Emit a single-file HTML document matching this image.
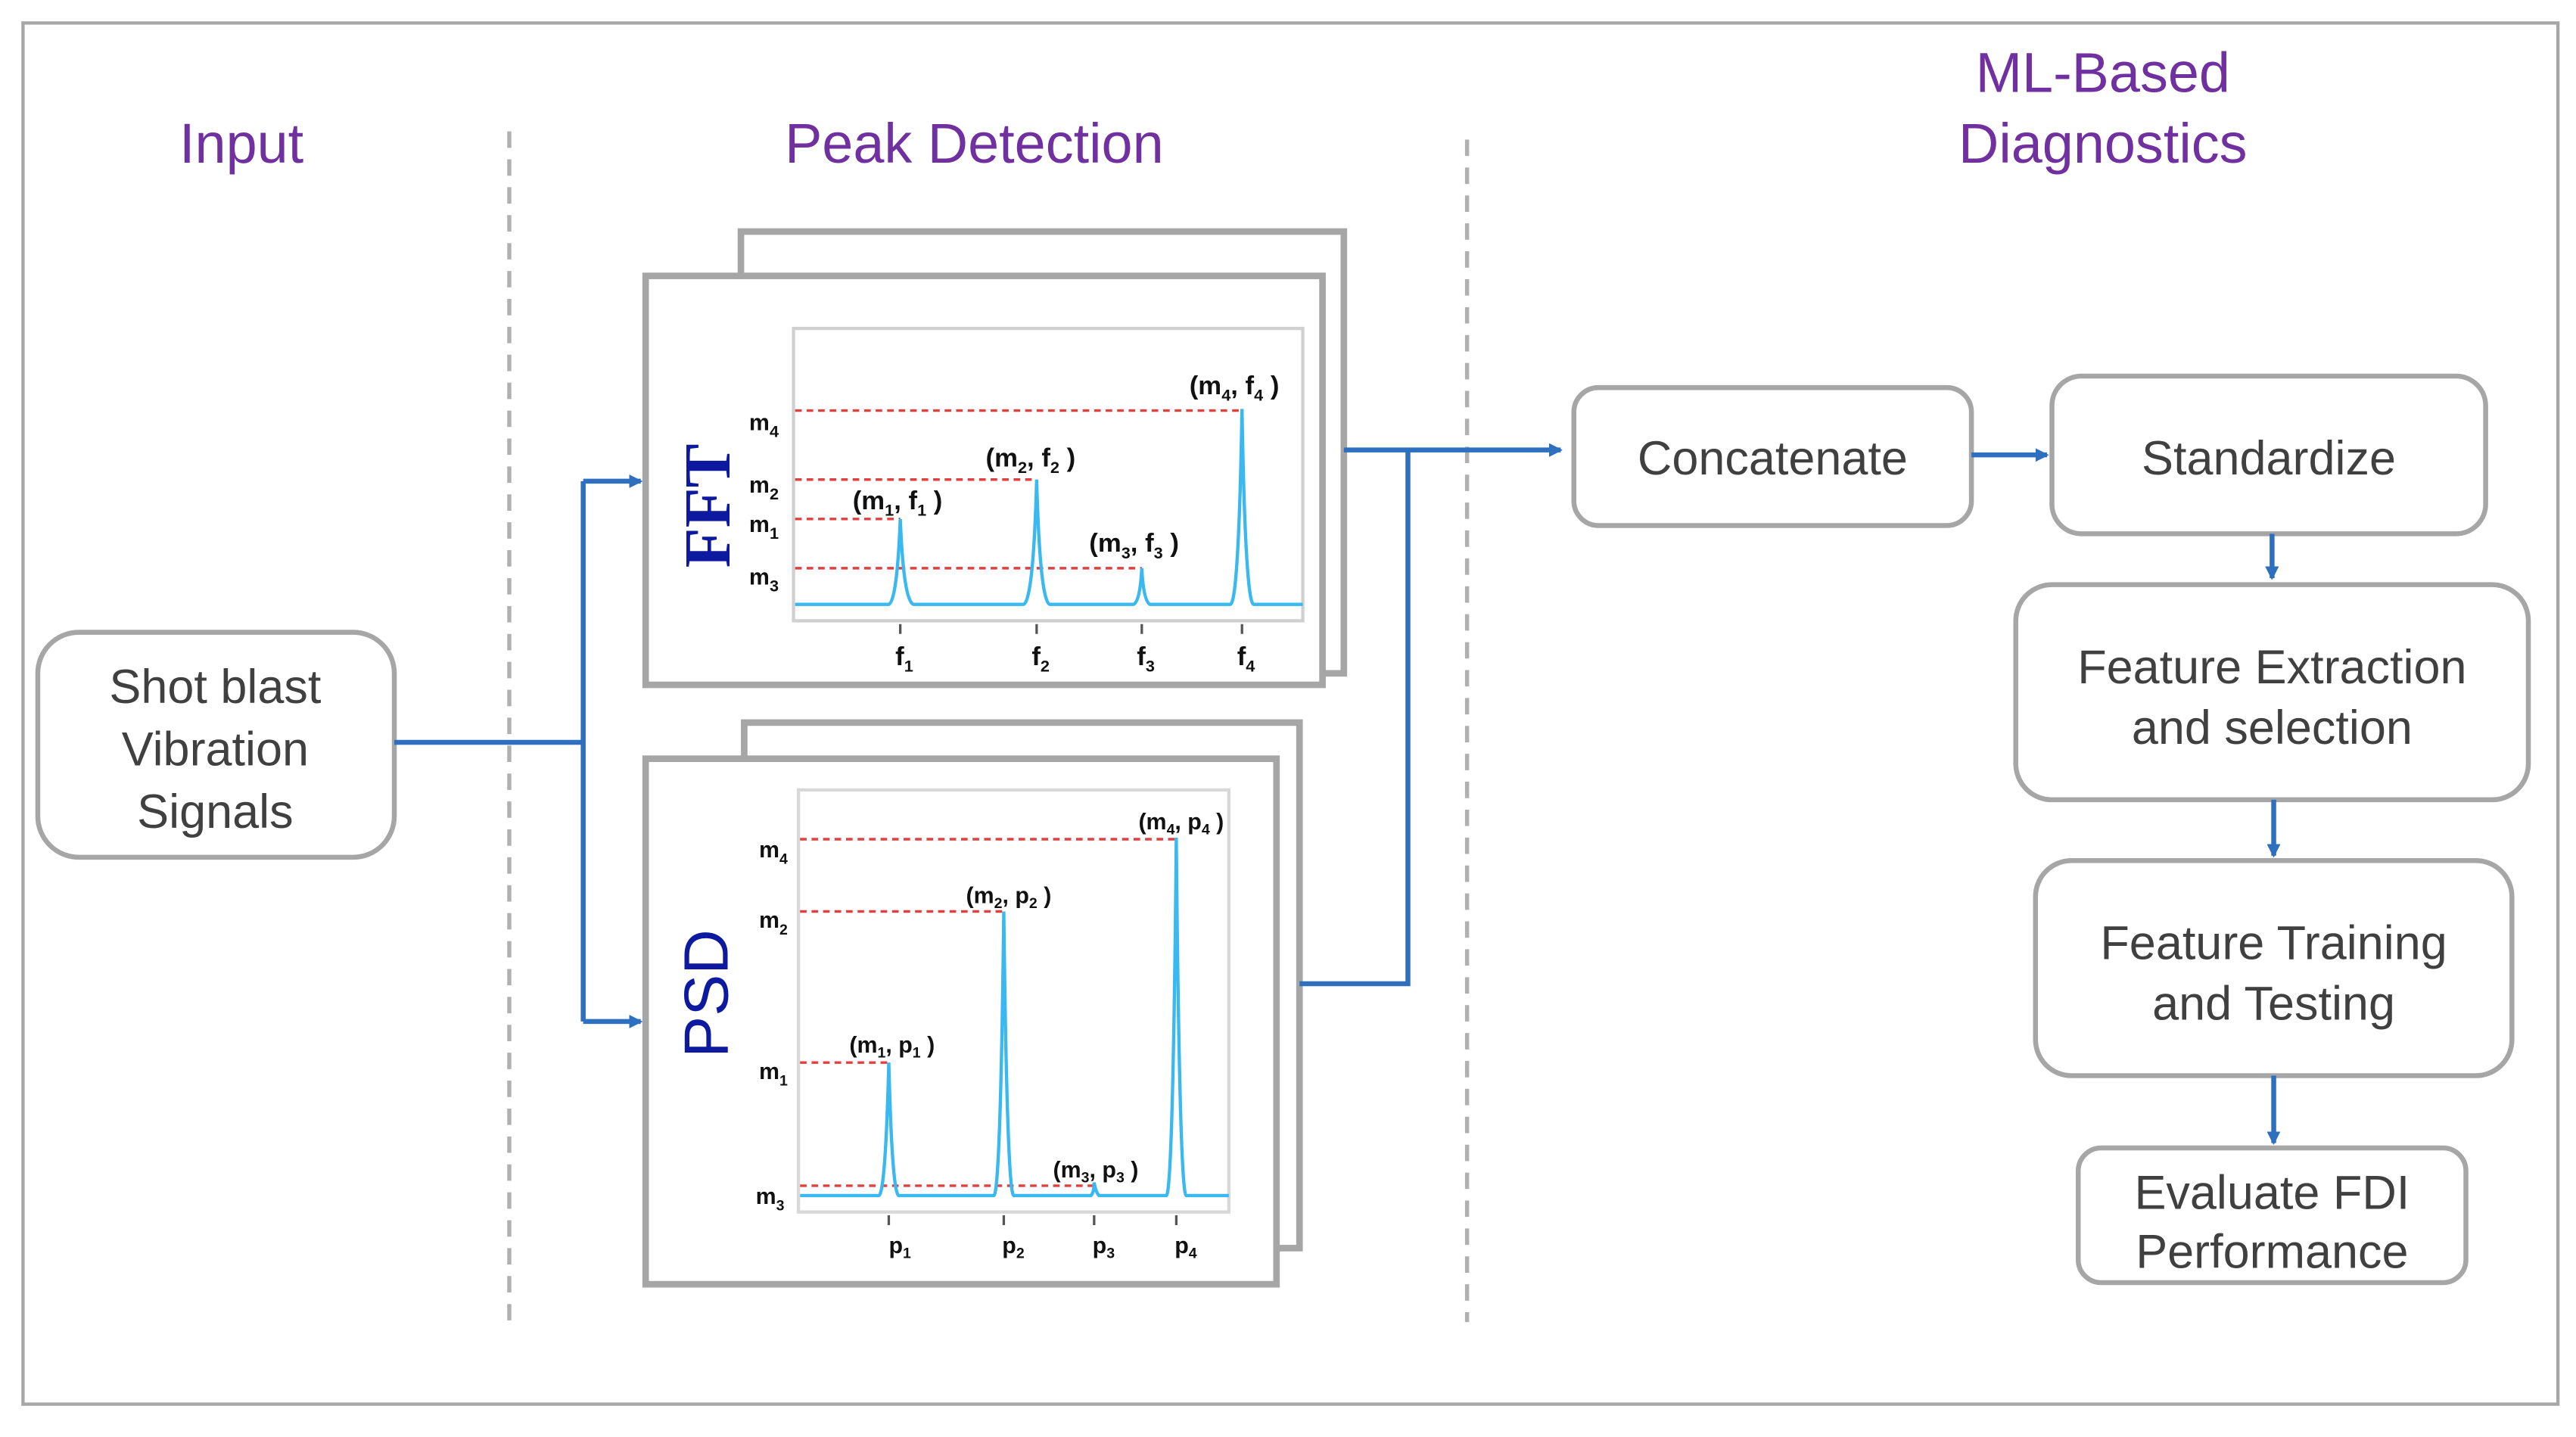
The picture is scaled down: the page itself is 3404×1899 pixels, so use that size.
<!DOCTYPE html>
<html><head><meta charset="utf-8"><style>
html,body{margin:0;padding:0;background:#fff;}
svg{display:block;}
.t{font-family:"Liberation Sans",sans-serif;fill:#404040;text-anchor:middle;}
.h{font-family:"Liberation Sans",sans-serif;fill:#7030a0;text-anchor:middle;font-size:34px;}
.b{fill:#fff;stroke:#a6a6a6;stroke-width:3;}
.c{stroke:#2e6fc0;stroke-width:3;fill:none;}
.r{stroke:#e04040;stroke-width:1.6;stroke-dasharray:4 3;fill:none;}
.s{stroke:#3ab8f0;stroke-width:2;fill:none;}
.l{font-family:"Liberation Sans",sans-serif;font-size:14px;fill:#111;font-weight:bold;}
</style></head><body>
<svg width="3404" height="1899" viewBox="0 0 1568 875" preserveAspectRatio="none" xmlns="http://www.w3.org/2000/svg">
<defs>
<marker id="a" markerWidth="8" markerHeight="8" refX="7" refY="4" orient="auto" markerUnits="userSpaceOnUse"><path d="M0,0 L8,4 L0,8 z" fill="#2e6fc0"/><path d="M0,0 L8,4 L0,8 z" fill="#2e6fc0" transform="scale(1.5) translate(-2.5,-1.3)"/></marker>
</defs>
<rect x="14" y="14" width="1543" height="841" fill="none" stroke="#a6a6a6" stroke-width="2"/>
<line x1="310" y1="80" x2="310" y2="805" stroke="#b0b0b0" stroke-width="2.5" stroke-dasharray="10 7"/>
<line x1="893" y1="85" x2="893" y2="805" stroke="#b0b0b0" stroke-width="2.5" stroke-dasharray="10 7"/>
<text class="h" x="147" y="99">Input</text>
<text class="h" x="593" y="99">Peak Detection</text>
<text class="h" x="1280" y="56">ML-Based</text>
<text class="h" x="1280" y="99">Diagnostics</text>

<rect class="b" x="23" y="385" width="217" height="137" rx="25"/>
<text class="t" font-size="29" x="131" y="428">Shot blast</text>
<text class="t" font-size="29" x="131" y="466">Vibration</text>
<text class="t" font-size="29" x="131" y="504">Signals</text>

<path class="c" d="M240,452 H355 M355,293 V622"/>
<path class="c" d="M355,293 H390" marker-end="url(#a)"/>
<path class="c" d="M355,622 H390" marker-end="url(#a)"/>

<!-- FFT -->
<rect x="451" y="141" width="367" height="269" fill="#fff" stroke="#a6a6a6" stroke-width="4"/>
<rect x="393" y="168" width="412" height="249" fill="#fff" stroke="#a6a6a6" stroke-width="4"/>
<rect x="483" y="200" width="310" height="178" fill="#fff" stroke="#d0d0d0" stroke-width="2"/>
<text x="0" y="0" transform="translate(444,308) rotate(-90)" font-family="Liberation Serif,serif" font-weight="bold" font-size="40" fill="#0d1aa0" text-anchor="middle">FFT</text>
<path class="r" d="M484,250 H756 M484,292 H631 M484,316 H548 M484,346 H695"/>
<path class="s" d="M484,368 H541 Q546,366 548,316 Q550,366 556,368 H623 Q629,366 631,292 Q633,366 639,368 H690 Q694,366 695,346 Q696,366 700,368 H749 Q754,366 756,249 Q758,366 763,368 H793"/>
<g class="l"><text x="456" y="262">m<tspan font-size="10" dy="4">4</tspan></text><text x="456" y="300">m<tspan font-size="10" dy="4">2</tspan></text><text x="456" y="324">m<tspan font-size="10" dy="4">1</tspan></text><text x="456" y="356">m<tspan font-size="10" dy="4">3</tspan></text>
<g font-size="16"><text x="545" y="405">f<tspan font-size="10" dy="4">1</tspan></text><text x="628" y="405">f<tspan font-size="10" dy="4">2</tspan></text><text x="692" y="405">f<tspan font-size="10" dy="4">3</tspan></text><text x="753" y="405">f<tspan font-size="10" dy="4">4</tspan></text>
<text x="724" y="240">(m<tspan font-size="10" dy="4">4</tspan><tspan dy="-4">, f</tspan><tspan font-size="10" dy="4">4</tspan><tspan dy="-4"> )</tspan></text>
<text x="600" y="284">(m<tspan font-size="10" dy="4">2</tspan><tspan dy="-4">, f</tspan><tspan font-size="10" dy="4">2</tspan><tspan dy="-4"> )</tspan></text>
<text x="519" y="310">(m<tspan font-size="10" dy="4">1</tspan><tspan dy="-4">, f</tspan><tspan font-size="10" dy="4">1</tspan><tspan dy="-4"> )</tspan></text>
<text x="663" y="336">(m<tspan font-size="10" dy="4">3</tspan><tspan dy="-4">, f</tspan><tspan font-size="10" dy="4">3</tspan><tspan dy="-4"> )</tspan></text></g></g>
<path d="M548,380 V386 M631,380 V386 M695,380 V386 M756,380 V386" stroke="#555" stroke-width="1.5"/>

<!-- PSD -->
<rect x="453" y="440" width="338" height="320" fill="#fff" stroke="#a6a6a6" stroke-width="4"/>
<rect x="393" y="462" width="384" height="320" fill="#fff" stroke="#a6a6a6" stroke-width="4"/>
<rect x="486" y="481" width="262" height="257" fill="#fff" stroke="#d8d8d8" stroke-width="2"/>
<text x="0" y="0" transform="translate(443,605) rotate(-90)" font-family="Liberation Sans,sans-serif" font-size="38" fill="#0d1aa0" text-anchor="middle">PSD</text>
<path class="r" d="M487,511 H716 M487,555 H611 M487,647 H541 M487,722 H666"/>
<path class="s" d="M487,728 H535 Q539,726 541,647 Q543,726 547,728 H605 Q609,726 611,555 Q613,726 617,728 H664 Q666,726 666,720 Q667,726 669,728 H710 Q714,726 716,510 Q718,726 722,728 H748"/>
<g class="l" font-size="13"><text x="462" y="522">m<tspan font-size="9" dy="4">4</tspan></text><text x="462" y="565">m<tspan font-size="9" dy="4">2</tspan></text><text x="462" y="657">m<tspan font-size="9" dy="4">1</tspan></text><text x="460" y="733">m<tspan font-size="9" dy="4">3</tspan></text>
<text x="541" y="763">p<tspan font-size="9" dy="3">1</tspan></text><text x="610" y="763">p<tspan font-size="9" dy="3">2</tspan></text><text x="665" y="763">p<tspan font-size="9" dy="3">3</tspan></text><text x="715" y="763">p<tspan font-size="9" dy="3">4</tspan></text>
<text x="693" y="505">(m<tspan font-size="9" dy="3">4</tspan><tspan dy="-3">, p</tspan><tspan font-size="9" dy="3">4</tspan><tspan dy="-3"> )</tspan></text>
<text x="588" y="550">(m<tspan font-size="9" dy="3">2</tspan><tspan dy="-3">, p</tspan><tspan font-size="9" dy="3">2</tspan><tspan dy="-3"> )</tspan></text>
<text x="517" y="641">(m<tspan font-size="9" dy="3">1</tspan><tspan dy="-3">, p</tspan><tspan font-size="9" dy="3">1</tspan><tspan dy="-3"> )</tspan></text>
<text x="641" y="717">(m<tspan font-size="9" dy="3">3</tspan><tspan dy="-3">, p</tspan><tspan font-size="9" dy="3">3</tspan><tspan dy="-3"> )</tspan></text></g>
<path d="M541,740 V746 M611,740 V746 M666,740 V746 M716,740 V746" stroke="#555" stroke-width="1.5"/>

<!-- right connectors -->
<path class="c" d="M791,599 H857 V274"/>
<path class="c" d="M818,274 H950" marker-end="url(#a)"/>

<rect class="b" x="958" y="236" width="242" height="84" rx="15"/>
<text class="t" font-size="29" x="1079" y="289">Concatenate</text>
<path class="c" d="M1200,277 H1246" marker-end="url(#a)"/>
<rect class="b" x="1249" y="229" width="264" height="96" rx="18"/>
<text class="t" font-size="29" x="1381" y="289">Standardize</text>
<path class="c" d="M1383,325 V352" marker-end="url(#a)"/>
<rect class="b" x="1227" y="356" width="312" height="131" rx="22"/>
<text class="t" font-size="29" x="1383" y="416">Feature Extraction</text>
<text class="t" font-size="29" x="1383" y="453">and selection</text>
<path class="c" d="M1384,487 V521" marker-end="url(#a)"/>
<rect class="b" x="1239" y="524" width="290" height="131" rx="22"/>
<text class="t" font-size="29" x="1384" y="584">Feature Training</text>
<text class="t" font-size="29" x="1384" y="621">and Testing</text>
<path class="c" d="M1384,655 V696" marker-end="url(#a)"/>
<rect class="b" x="1265" y="699" width="236" height="82" rx="14"/>
<text class="t" font-size="29" x="1383" y="736">Evaluate FDI</text>
<text class="t" font-size="29" x="1383" y="772">Performance</text>
</svg>
</body></html>
